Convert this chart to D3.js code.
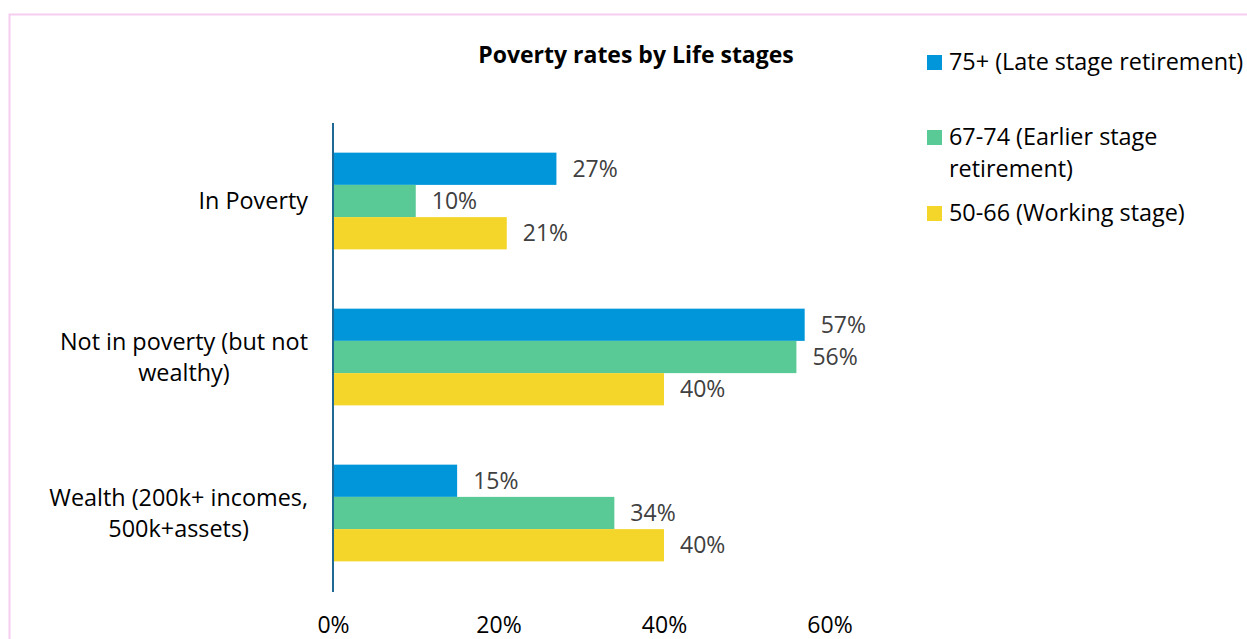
<!DOCTYPE html>
<html><head><meta charset="utf-8">
<script src="https://cdn.jsdelivr.net/npm/d3@7"></script>
<style>body{margin:0;background:#fff;}svg{display:block;font-family:"Open Sans",Lato,sans-serif;}</style>
</head><body>
<svg id="c" width="1247" height="639"></svg>
<script>
const categories = [["In Poverty"], ["Not in poverty (but not", "wealthy)"], ["Wealth (200k+ incomes,", "500k+assets)"]];
const categoryKeys = ["In Poverty", "Not in poverty (but not wealthy)", "Wealth (200k+ incomes, 500k+assets)"];
const seriesNames = ["75+ (Late stage retirement)", "67-74 (Earlier stage retirement)", "50-66 (Working stage)"];
const legendLines = [["75+ (Late stage retirement)"], ["67-74 (Earlier stage", "retirement)"], ["50-66 (Working stage)"]];
const late = [27, 57, 15];
const earlier = [10, 56, 34];
const working = [21, 40, 40];
const seriesValues = [late, earlier, working];
const colors = ["#0096d9", "#59c995", "#f4d62a"];
const ticks = [0, 20, 40, 60];
const FS = 23.4;

const svg = d3.select("#c");
svg.append("rect").attr("x", 9.5).attr("y", 14.5).attr("width", 1250).attr("height", 640)
  .attr("fill", "none").attr("stroke", "#f5cdef").attr("stroke-width", 2);

const x = d3.scaleLinear().domain([0, 60]).range([333, 829.5]);
const y0 = d3.scaleBand().domain(categoryKeys).range([123, 591]).paddingInner(0.38).paddingOuter(0.19);
const y1 = d3.scaleBand().domain(seriesNames).range([0, y0.bandwidth()]);

svg.append("text").attr("x", 636).attr("y", 63).attr("text-anchor", "middle")
  .attr("font-weight", "bold").attr("font-size", 23).attr("fill", "#000").text("Poverty rates by Life stages");

const g = svg.append("g");
categoryKeys.forEach((c, ci) => {
  seriesNames.forEach((s, si) => {
    const v = seriesValues[si][ci];
    const yy = y0(c) + y1(s);
    g.append("rect").attr("x", x(0)).attr("y", yy).attr("width", x(v) - x(0)).attr("height", y1.bandwidth())
      .attr("fill", colors[si]);
    g.append("text").attr("x", x(v) + 16).attr("y", yy + y1.bandwidth() / 2).attr("dy", "0.35em")
      .attr("font-size", 23).attr("fill", "#404040").text(v + "%");
  });
  const lines = categories[ci];
  const cy = y0(c) + y0.bandwidth() / 2;
  const lh = 31;
  const tg = svg.append("g");
  const texts = lines.map((l, li) => tg.append("text").attr("font-size", FS).attr("fill", "#000")
    .attr("text-anchor", "middle").attr("y", cy + (li - (lines.length - 1) / 2) * lh).attr("dy", "0.35em").text(l));
  const maxW = d3.max(texts, t => t.node().getComputedTextLength());
  texts.forEach(t => t.attr("x", 308 - maxW / 2));
});

svg.append("line").attr("x1", x(0)).attr("x2", x(0)).attr("y1", 123).attr("y2", 592)
  .attr("stroke", "#1f6a94").attr("stroke-width", 2);

const xAxis = d3.axisBottom(x).tickValues(ticks).tickFormat(d => d + "%").tickSize(0).tickPadding(0);
const ax = svg.append("g").attr("transform", "translate(0,617)").call(xAxis);
ax.select(".domain").remove();
ax.selectAll("text").attr("font-size", 23).attr("fill", "#000").attr("font-family", "'Open Sans',Lato,sans-serif");

const legY = [62, 137, 213];
legendLines.forEach((ls, i) => {
  svg.append("rect").attr("x", 927).attr("y", legY[i] - 7).attr("width", 15).attr("height", 15).attr("fill", colors[i]);
  ls.forEach((l, li) => {
    svg.append("text").attr("x", 949).attr("y", legY[i] + li * 32).attr("dy", "0.35em")
      .attr("font-size", FS).attr("fill", "#000").text(l);
  });
});
</script>
</body></html>
